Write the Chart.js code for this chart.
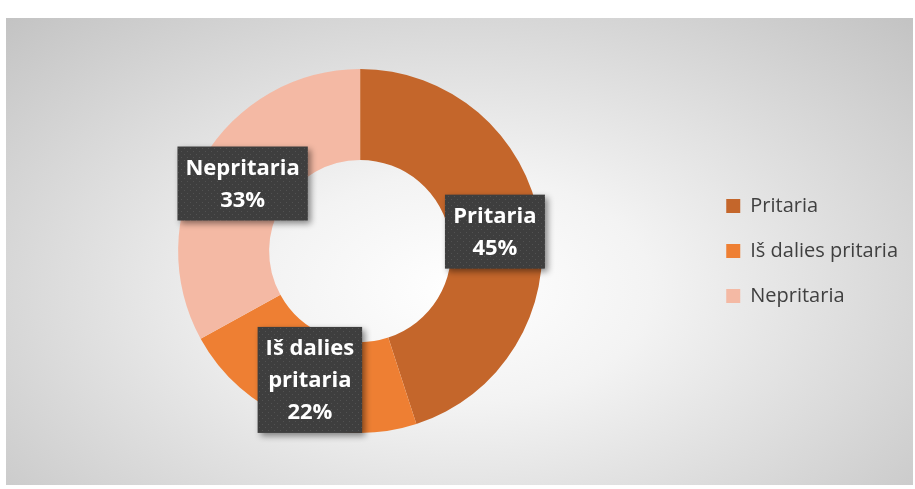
<!DOCTYPE html>
<html>
<head>
<meta charset="utf-8">
<script src="https://cdn.jsdelivr.net/npm/chart.js@4.4.1/dist/chart.umd.min.js"></script>
<style>
  html, body { margin: 0; padding: 0; background: #fff; }
  #wrap { position: relative; width: 915px; height: 489px; }
  #bg {
    position: absolute; left: 6px; top: 18px; width: 907px; height: 467px;
    background: radial-gradient(ellipse farthest-corner at 50% 58%, #ffffff 0%, #f3f3f3 30%, #c3c3c3 100%);
  }
  #doughnutChart { position: absolute; left: 0; top: 0; }
</style>
</head>
<body>
<div id="wrap">
  <div id="bg"></div>
  <canvas id="doughnutChart" width="915" height="489"></canvas>
</div>
<script>
// data
var categories = ["Pritaria", "Iš dalies pritaria", "Nepritaria"];
var shares = [45, 22, 33];
var sliceColors = ["#C4662B", "#EE7F33", "#F4B9A4"];

// dotted dark fill for the data labels
function dotPattern(ctx) {
  var c = document.createElement('canvas');
  c.width = 6; c.height = 6;
  var p = c.getContext('2d');
  p.fillStyle = '#3e3e3e';
  p.fillRect(0, 0, 6, 6);
  p.fillStyle = '#525252';
  p.fillRect(1, 1, 1, 1);
  p.fillRect(4, 4, 1, 1);
  return ctx.createPattern(c, 'repeat');
}

function wrapLines(ctx, text, maxW) {
  var words = text.split(' '), lines = [], cur = '';
  words.forEach(function (w) {
    var t = cur ? cur + ' ' + w : w;
    if (cur && ctx.measureText(t).width > maxW) { lines.push(cur); cur = w; }
    else cur = t;
  });
  lines.push(cur);
  return lines;
}

var boxLabels = {
  id: 'boxLabels',
  afterDatasetsDraw: function (chart) {
    var ctx = chart.ctx;
    var meta = chart.getDatasetMeta(0);
    var total = shares.reduce(function (a, b) { return a + b; }, 0);
    var fill = dotPattern(ctx);
    ctx.save();
    ctx.font = 'bold 22px "Open Sans"';
    meta.data.forEach(function (arc, i) {
      var pos = arc.tooltipPosition();
      var lines = wrapLines(ctx, categories[i], 100);
      lines.push(Math.round(shares[i] / total * 100) + '%');
      var w = 0;
      lines.forEach(function (l) { w = Math.max(w, ctx.measureText(l).width); });
      var lh = 32;
      var bw = Math.max(w + 16, 100), bh = lines.length * lh + 10;
      var bx = pos.x - bw / 2, by = pos.y - bh / 2 + 2;
      ctx.shadowColor = 'rgba(0,0,0,0.45)';
      ctx.shadowBlur = 6;
      ctx.shadowOffsetX = 3;
      ctx.shadowOffsetY = 3;
      ctx.fillStyle = fill;
      ctx.fillRect(bx, by, bw, bh);
      ctx.shadowColor = 'transparent';
      ctx.fillStyle = '#ffffff';
      ctx.textAlign = 'center';
      ctx.textBaseline = 'middle';
      lines.forEach(function (l, k) {
        ctx.fillText(l, pos.x, by + 5 + lh * k + lh / 2 + 1);
      });
    });
    ctx.restore();
  }
};

var ctxD = document.getElementById("doughnutChart").getContext('2d');
var myDoughnutChart = new Chart(ctxD, {
    type: 'doughnut',
    data: {
        labels: categories,
        datasets: [
            {
                data: shares,
                backgroundColor: sliceColors,
                borderWidth: 0,
                hoverOffset: 0
            }
        ]
    },
    options: {
        responsive: false,
        animation: false,
        cutout: '50%',
        layout: { padding: { left: 19, right: 7, top: 69, bottom: 56 } },
        plugins: {
            tooltip: { enabled: false },
            legend: {
                position: 'right',
                labels: {
                    boxWidth: 14,
                    boxHeight: 14,
                    padding: 25,
                    color: '#404040',
                    font: { family: '"Open Sans"', size: 20 }
                }
            }
        }
    },
    plugins: [boxLabels]
});
</script>
</body>
</html>
